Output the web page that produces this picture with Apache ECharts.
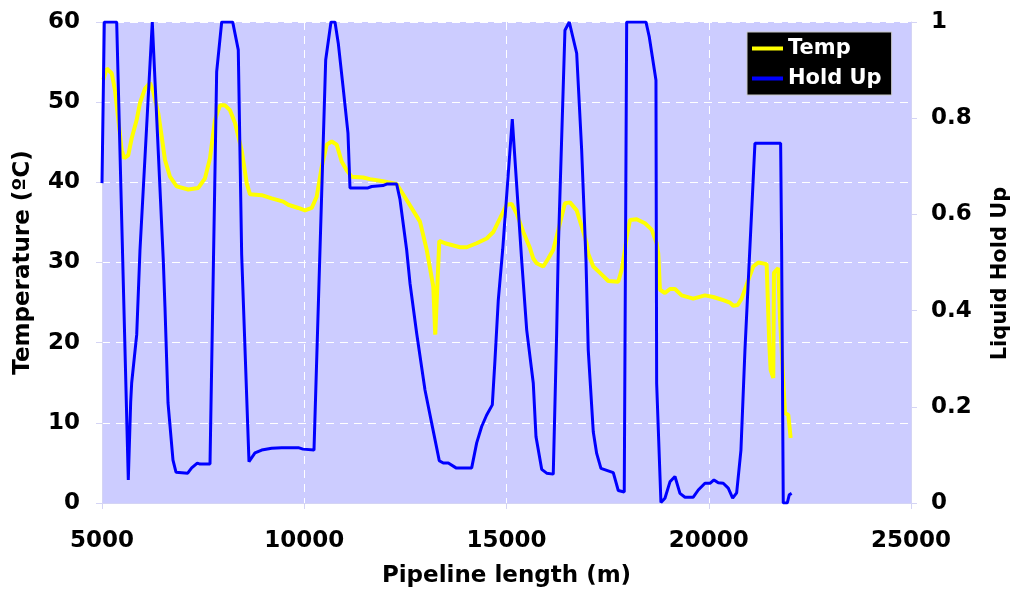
<!DOCTYPE html>
<html>
<head>
<meta charset="utf-8">
<script src="https://cdn.jsdelivr.net/npm/echarts@6/dist/echarts.min.js"></script>
<style>
html,body{margin:0;padding:0;background:#fff;}
#chart{width:1014px;height:590px;}
</style>
</head>
<body>
<div id="chart"></div>
<script>
// Temperature series (distance m, temperature °C)
const tempDist = [5032,5116,5156,5240,5321,5403,5487,5551,5650,5734,5858,5939,6063,6187,6268,6392,6476,6557,6681,6847,7133,7381,7546,7670,7793,7917,8041,8164,8288,8453,8577,8659,8948,9195,9482,9605,9853,10018,10184,10307,10431,10555,10678,10802,10925,11049,11173,11459,11625,11872,12077,12285,12532,12861,13027,13190,13239,13338,13479,13850,14016,14263,14510,14673,14839,15004,15128,15251,15415,15580,15662,15746,15909,16033,16156,16322,16445,16569,16735,16858,16982,17021,17145,17311,17516,17763,17847,17929,17971,18052,18218,18423,18589,18712,18752,18794,18917,19041,19165,19330,19617,19906,20111,20359,20524,20606,20715,20813,20977,21100,21224,21431,21496,21530,21595,21612,21718,21760,21884,21966,22025];
const tempVal = [52.8,54.2,54.3,53.6,51.5,47.8,44.0,43.0,43.4,45.5,47.8,49.9,51.7,52.4,51.3,48.6,45.7,42.8,40.7,39.5,39.1,39.3,40.5,43.0,47.8,49.6,49.6,49.0,47.4,44.0,39.9,38.5,38.4,38.0,37.6,37.2,36.8,36.5,36.8,38.2,41.9,44.7,45.1,44.7,42.6,41.5,40.7,40.6,40.4,40.2,40.0,39.8,37.8,35.1,31.6,27.0,21.0,32.7,32.4,31.9,31.9,32.4,33.0,33.8,35.5,37.2,37.3,36.1,33.8,31.8,30.5,29.9,29.5,30.5,31.6,34.9,37.4,37.5,36.5,34.5,32.4,31.1,29.5,28.7,27.7,27.6,29.1,31.6,33.2,35.3,35.4,34.9,34.1,32.4,31.1,26.6,26.2,26.7,26.7,25.9,25.5,25.9,25.7,25.3,25.0,24.6,24.7,25.5,27.8,29.5,30.0,29.8,19.9,16.6,15.6,28.7,29.3,23.2,11.2,11.0,8.1];

// Liquid hold up series (distance m, fraction)
const holdDist = [5000,5057,5363,5650,5709,5734,5858,5939,6243,6515,6557,6632,6755,6829,7119,7217,7356,7423,7670,7835,7959,8231,8369,8453,8634,8782,8948,9195,9442,9853,9969,10241,10389,10530,10661,10760,10841,10958,11081,11131,11173,11576,11667,11946,12038,12285,12367,12532,12614,12779,12985,13150,13338,13437,13561,13751,14139,14263,14386,14510,14649,14715,14797,14905,15143,15375,15499,15662,15729,15870,15993,16156,16240,16280,16445,16552,16735,16858,16965,17021,17145,17229,17335,17640,17763,17911,17971,18448,18530,18695,18712,18818,18917,19041,19165,19288,19412,19617,19741,19906,20030,20129,20235,20359,20482,20591,20690,20796,20895,21142,21777,21802,21842,21941,21990,22049];
const holdVal = [0.665,1.0,1.0,0.048,0.21,0.25,0.35,0.526,1.0,0.505,0.407,0.208,0.089,0.064,0.062,0.073,0.083,0.081,0.081,0.897,1.0,1.0,0.942,0.516,0.086,0.104,0.110,0.114,0.115,0.115,0.112,0.110,0.526,0.921,1.0,1.0,0.956,0.866,0.769,0.655,0.651,0.655,0.658,0.660,0.663,0.663,0.631,0.526,0.457,0.353,0.235,0.166,0.088,0.083,0.083,0.073,0.073,0.125,0.159,0.183,0.204,0.297,0.422,0.526,0.798,0.505,0.360,0.249,0.138,0.070,0.062,0.060,0.353,0.526,0.983,1.0,0.935,0.734,0.505,0.318,0.148,0.103,0.072,0.063,0.026,0.023,1.0,1.0,0.969,0.879,0.249,0.001,0.010,0.044,0.055,0.020,0.012,0.012,0.027,0.041,0.041,0.048,0.042,0.041,0.031,0.010,0.021,0.110,0.318,0.748,0.748,0.526,0.0,0.0,0.017,0.020];

const xTicks = [5000, 25000, 5000];   // min, max, interval
const tempTicks = [0, 60, 10];
const holdTicks = [0, 1, 0.2];

const FONT = 'DejaVu Sans';
const axisCol = '#d4d4f4';
const FS = 23;

const chart = echarts.init(document.getElementById('chart'), null, {renderer:'canvas'});
chart.setOption({
  animation: false,
  backgroundColor: '#ffffff',
  grid: {left: 102, right: 103, top: 22, bottom: 87, show: true, backgroundColor: '#ccccff', borderWidth: 0,
         containLabel: false, outerBoundsMode: 'none'},
  legend: {
    orient: 'vertical', left: 747, top: 32,
    backgroundColor: '#000000', borderColor: '#c8c8c8', borderWidth: 1,
    padding: [6, 10, 6, 5], itemGap: 9, itemWidth: 31, itemHeight: 4,
    textStyle: {color: '#ffffff', fontFamily: FONT, fontWeight: 'bold', fontSize: 21},
    data: [
      {name: 'Temp', icon: 'rect'},
      {name: 'Hold Up', icon: 'rect'}
    ]
  },
  xAxis: {
    type: 'value', min: xTicks[0], max: xTicks[1], interval: xTicks[2],
    name: 'Pipeline length (m)', nameLocation: 'middle', nameGap: 62,
    nameTextStyle: {fontFamily: FONT, fontWeight: 'bold', fontSize: FS, color: '#000'},
    axisLine: {show: true, lineStyle: {color: axisCol, width: 1}},
    axisTick: {show: true, length: 6, lineStyle: {color: axisCol}},
    axisLabel: {fontFamily: FONT, fontWeight: 'bold', fontSize: FS, color: '#000', margin: 27,
      formatter: v => String(v)},
    splitLine: {show: true, lineStyle: {color: '#ffffff', type: [8, 6], width: 1}}
  },
  yAxis: [
    {
      type: 'value', min: tempTicks[0], max: tempTicks[1], interval: tempTicks[2], position: 'left',
      name: 'Temperature (ºC)', nameLocation: 'middle', nameGap: 67, nameRotate: 90,
      nameTextStyle: {fontFamily: FONT, fontWeight: 'bold', fontSize: FS, color: '#000'},
      axisLine: {show: true, lineStyle: {color: axisCol, width: 1}},
      axisTick: {show: true, length: 6, lineStyle: {color: axisCol}},
      axisLabel: {fontFamily: FONT, fontWeight: 'bold', fontSize: FS, color: '#000', margin: 22},
      splitLine: {show: true, lineStyle: {color: '#ffffff', type: [8, 6], width: 1}}
    },
    {
      type: 'value', min: holdTicks[0], max: holdTicks[1], interval: holdTicks[2], position: 'right',
      name: 'Liquid Hold Up', nameLocation: 'middle', nameGap: 79, nameRotate: 90,
      nameTextStyle: {fontFamily: FONT, fontWeight: 'bold', fontSize: 21, color: '#000', padding: [0, 22, 0, 0]},
      axisLine: {show: true, lineStyle: {color: axisCol, width: 1}},
      axisTick: {show: true, length: 6, lineStyle: {color: axisCol}},
      axisLabel: {fontFamily: FONT, fontWeight: 'bold', fontSize: FS, color: '#000', margin: 20},
      splitLine: {show: false}
    }
  ],
  series: [
    {
      name: 'Temp', type: 'line', yAxisIndex: 0, showSymbol: false, symbol: 'none',
      data: tempDist.map((d, i) => [d, tempVal[i]]),
      lineStyle: {color: '#ffff00', width: 4}, itemStyle: {color: '#ffff00'}, z: 2
    },
    {
      name: 'Hold Up', type: 'line', yAxisIndex: 1, showSymbol: false, symbol: 'none',
      data: holdDist.map((d, i) => [d, holdVal[i]]),
      lineStyle: {color: '#0000ff', width: 3}, itemStyle: {color: '#0000ff'}, z: 3
    }
  ]
});
</script>
</body>
</html>
